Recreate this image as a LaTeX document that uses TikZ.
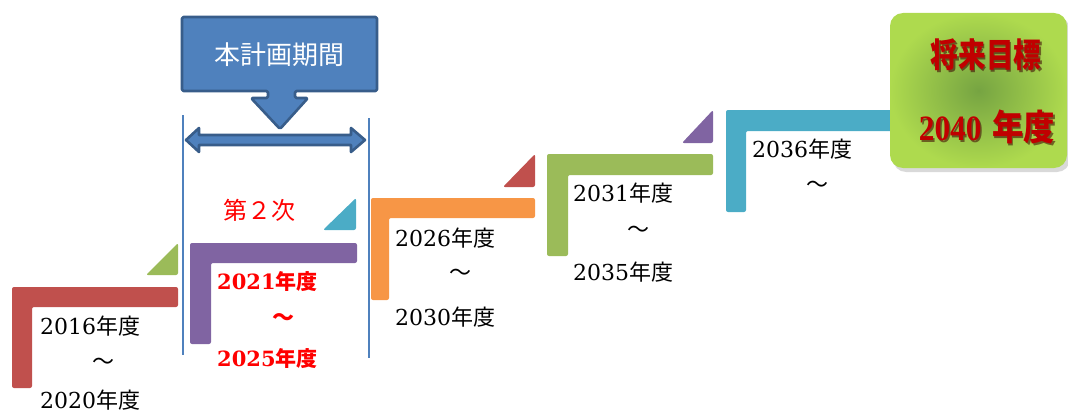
\documentclass[tikz,border=0pt]{standalone}
\usepackage{fontspec}
\setmainfont{DejaVu Serif}
\newfontfamily\cjk{Noto Sans CJK JP}
\newfontfamily\numb{Liberation Serif}
\usetikzlibrary{shadows}
\definecolor{cRed}{HTML}{C0504D}
\definecolor{cGreen}{HTML}{9BBB59}
\definecolor{cPurple}{HTML}{8064A2}
\definecolor{cTeal}{HTML}{4BACC6}
\definecolor{cOrange}{HTML}{F79646}
\definecolor{cBlue}{HTML}{4F81BD}
\definecolor{cDark}{HTML}{385D8A}
\definecolor{goalRed}{HTML}{C00000}
\definecolor{goalIn}{RGB}{118,164,66}
\definecolor{goalOut}{RGB}{174,218,78}
\newcommand\nendo{{\cjk 年度}}
\newcommand\goalA{\scalebox{0.92}[1.12]{将来目標}}
\newcommand\goalB{\scalebox{0.95}[1.08]{{\numb 2040} {\cjk 年度}}}
\tikzset{
  yr/.style={font=\fontsize{22}{26}\selectfont, anchor=west, inner sep=0pt},
  ryr/.style={font=\bfseries\fontsize{21}{26}\selectfont, text=red, anchor=west, inner sep=0pt},
  tl/.style={font=\cjk\fontsize{22}{26}\selectfont, inner sep=0pt},
  rtl/.style={font=\cjk\bfseries\fontsize{22}{26}\selectfont, text=red, inner sep=0pt},
  stepshape/.style={rounded corners=2pt},
  bline/.style={draw=cBlue, line width=2.6pt},
  goaltext/.style={text=goalRed, inner sep=0pt},
  goalshadow/.style={text=black!70!goalRed, opacity=0.55, inner sep=0pt}
}
\begin{document}
\begin{tikzpicture}[x=1pt,y=-1pt]
\useasboundingbox (0,0) rectangle (1068,412);
% step L shapes
\fill[cRed, stepshape] (12,287) -- (178,287) -- (178,307) -- (32,307) -- (32,388) -- (12,388) -- cycle;
\fill[cPurple, stepshape] (190,243) -- (357,243) -- (357,263) -- (211,263) -- (211,344) -- (190,344) -- cycle;
\fill[cOrange, stepshape] (371,198) -- (535,198) -- (535,218) -- (389,218) -- (389,300) -- (371,300) -- cycle;
\fill[cGreen, stepshape] (547,154) -- (713,154) -- (713,175) -- (568,175) -- (568,256) -- (547,256) -- cycle;
\fill[cTeal, stepshape] (726,110) -- (905,110) -- (905,131) -- (746,131) -- (746,212) -- (726,212) -- cycle;
% triangles
\fill[cGreen, stepshape] (146,275) -- (178,275) -- (178,243) -- cycle;
\fill[cTeal, stepshape] (323,230) -- (356,230) -- (356,198) -- cycle;
\fill[cRed, stepshape] (503,187) -- (535,187) -- (535,154) -- cycle;
\fill[cPurple, stepshape] (682,143) -- (713,143) -- (713,110) -- cycle;
% period lines
\coordinate (l1a) at (183,115); \coordinate (l1b) at (183,355);
\coordinate (l2a) at (369,118); \coordinate (l2b) at (369,358);
\draw[bline] (l1a) -- (l1b);
\draw[bline] (l2a) -- (l2b);
% double arrow
\draw[fill=cBlue, draw=cDark, line width=2.6pt, line join=round]
  (186,140) -- (199,128) -- (199,135) -- (351,135) -- (351,128) -- (365,140)
  -- (351,152) -- (351,145) -- (199,145) -- (199,152) -- cycle;
% callout
\draw[fill=cBlue, draw=cDark, line width=2.6pt, line join=round, rounded corners=1.5pt]
  (182,17) -- (377,17) -- (377,91) -- (295,91) -- (295,98) -- (308,98) -- (280,129)
  -- (251,98) -- (268,98) -- (268,91) -- (182,91) -- cycle;
\node[font=\cjk\fontsize{26}{30}\selectfont, text=white, inner sep=0pt] (plan) at (279,55) {本計画期間};
% goal box
\node[minimum width=177pt, minimum height=155pt, rounded corners=13pt,
  shading=radial, inner color=goalIn, outer color=goalOut,
  drop shadow={shadow xshift=3pt, shadow yshift=-4pt, opacity=0.3}] (goal) at (978.5,90.5) {};
\node[goalshadow, font=\cjk\bfseries\fontsize{30}{34}\selectfont] at (987.5,56.5) {\goalA};
\node[goaltext, font=\cjk\bfseries\fontsize{30}{34}\selectfont] (goal1) at (986,55) {\goalA};
\node[goalshadow, font=\bfseries\fontsize{33}{36}\selectfont] at (988.5,128.5) {\goalB};
\node[goaltext, font=\bfseries\fontsize{33}{36}\selectfont] (goal2) at (987,127) {\goalB};
% texts
\node[rtl, font=\cjk\fontsize{24}{28}\selectfont] (dai2) at (259,210) {第２次};
\node[yr] (a1) at (40,326) {2016\nendo};
\node[tl] (a2) at (103,364) {～};
\node[yr] (a3) at (40,400) {2020\nendo};
\node[ryr] (b1) at (217,282) {2021{\cjk\bfseries 年度}};
\node[rtl] (b2) at (283,320) {～};
\node[ryr] (b3) at (217,359) {2025{\cjk\bfseries 年度}};
\node[yr] (c1) at (395,238) {2026\nendo};
\node[tl] (c2) at (460,275) {～};
\node[yr] (c3) at (395,317) {2030\nendo};
\node[yr] (d1) at (573,193) {2031\nendo};
\node[tl] (d2) at (638,232) {～};
\node[yr] (d3) at (573,272) {2035\nendo};
\node[yr] (e1) at (752,149) {2036\nendo};
\node[tl] (e2) at (817,187) {～};
\end{tikzpicture}
\end{document}
